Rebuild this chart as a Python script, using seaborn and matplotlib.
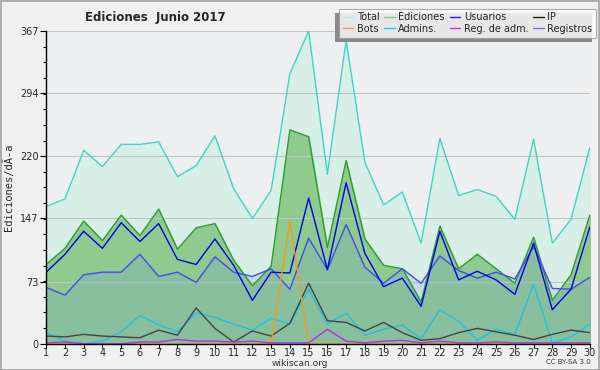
import matplotlib
matplotlib.use("Agg")
import matplotlib.pyplot as plt
import seaborn as sns
import pandas as pd
import numpy as np
from matplotlib.lines import Line2D
from matplotlib.ticker import FixedLocator

days = list(range(1, 31))
total = [161, 170, 227, 208, 234, 234, 237, 196, 209, 244, 182, 147, 180, 317, 367, 199, 356, 213, 163, 178,
         118, 241, 174, 181, 173, 146, 240, 118, 146, 230]
ediciones = [93, 112, 144, 121, 151, 127, 158, 111, 136, 141, 98, 68, 91, 251, 243, 113, 215, 123, 92, 88,
             49, 138, 88, 105, 88, 71, 125, 51, 81, 151]
usuarios = [84, 105, 132, 112, 142, 120, 141, 99, 93, 123, 92, 51, 84, 83, 171, 87, 189, 106, 67, 77,
            44, 132, 75, 85, 75, 58, 118, 40, 64, 137]
registros = [66, 57, 81, 84, 84, 105, 79, 84, 72, 102, 84, 79, 88, 64, 124, 87, 140, 90, 71, 88,
             71, 103, 86, 77, 84, 76, 114, 65, 64, 78]
ip = [9, 8, 11, 9, 8, 7, 16, 10, 42, 18, 2, 15, 9, 24, 71, 27, 25, 15, 25, 13,
      4, 6, 13, 18, 14, 10, 5, 11, 16, 13]
admins = [13, 3, 0, 3, 14, 33, 22, 14, 36, 31, 23, 16, 30, 23, 64, 23, 36, 10, 17, 22,
          6, 40, 26, 4, 17, 11, 70, 1, 8, 23]
bots = [0, 0, 0, 0, 0, 0, 0, 0, 0, 0, 0, 0, 0, 144, 0, 0, 0, 0, 0, 0,
        0, 0, 0, 0, 0, 0, 0, 0, 0, 0]
reg_adm = [1, 2, 0, 0, 0, 2, 2, 5, 3, 3, 2, 3, 1, 1, 1, 17, 3, 1, 3, 4,
           1, 3, 1, 1, 2, 1, 1, 1, 1, 1]
yticks = [0, 73, 147, 220, 294, 367]

df = pd.DataFrame({"day": days, "Total": total, "Ediciones": ediciones, "Usuarios": usuarios,
                   "IP": ip, "Bots": bots, "Admins.": admins, "Reg. de adm.": reg_adm,
                   "Registros": registros})

sns.set_theme(style="white")
plt.rcParams["font.family"] = ["DejaVu Sans"]

fig = plt.figure(figsize=(6, 3.7), dpi=100, facecolor="#f0f0f0")
ax = fig.add_axes([0.077, 0.071, 0.906, 0.845])
ax.set_facecolor("#eeeff0")

# fills
ax.fill_between(df["day"], df["Total"], color="#d8efe8", zorder=1)
ax.fill_between(df["day"], df["Ediciones"], color="#8fca8f", zorder=2)
ax.fill_between(df["day"], df["Registros"], color="#6a8ee8", alpha=0.17, zorder=3)

line_colors = {"Total": "#3fd6c6", "Ediciones": "#2e9e2e", "Registros": "#4a4af0",
               "Usuarios": "#0000e6", "IP": "#444444", "Admins.": "#22c2e0",
               "Bots": "#f59a20", "Reg. de adm.": "#b030f0"}
order = ["Total", "Ediciones", "Registros", "Usuarios", "Admins.", "IP", "Bots", "Reg. de adm."]
for i, name in enumerate(order):
    sns.lineplot(data=df, x="day", y=name, ax=ax, color=line_colors[name], linewidth=1.0,
                 legend=False, zorder=5 + i)

ax.set_xlim(1, 30)
ax.set_ylim(0, 367)
ax.set_xticks(days)
ax.set_xticklabels([str(d) for d in days], fontsize=7)
ax.yaxis.set_major_locator(FixedLocator(yticks))
ax.set_yticklabels([str(t) for t in yticks], fontsize=7)
ax.yaxis.set_minor_locator(FixedLocator([v for v in np.arange(0, 367.1, 367 / 20)]))
ax.tick_params(axis="x", which="major", length=3, width=0.8, color="black", pad=0.3,
               direction="out", bottom=True)
ax.tick_params(axis="y", which="major", length=4, width=0.8, color="black", pad=1.5,
               direction="out", left=True)
ax.tick_params(axis="y", which="minor", length=2.5, width=0.8, color="black", left=True)
ax.grid(axis="y", which="major", color="#c4c4c4", linewidth=0.8, zorder=0)
ax.set_axisbelow(False)
for s in ["top", "right"]:
    ax.spines[s].set_visible(False)
for s in ["left", "bottom"]:
    ax.spines[s].set_color("black")
    ax.spines[s].set_linewidth(1.0)
    ax.spines[s].set_zorder(20)
ax.set_xlabel("")
ax.set_ylabel("Ediciones/dÃ-a", fontsize=7.5, family="DejaVu Sans Mono", labelpad=4)

fig.text(0.142, 0.953, "Ediciones  Junio 2017", fontsize=8.5, fontweight="bold", ha="left", va="center")
fig.text(0.5, 0.018, "wikiscan.org", fontsize=6.5, ha="center", va="center", color="#333333")
fig.text(0.985, 0.021, "CC BY-SA 3.0", fontsize=5, ha="right", va="center", color="#333333")

leg_colors = {"Total": "#b0f0ee", "Ediciones": "#7fd07f", "Usuarios": "#2222ee", "IP": "#222222",
              "Bots": "#f8a030", "Admins.": "#22c8e8", "Reg. de adm.": "#cc33ee", "Registros": "#6a6aff"}
leg_order = ["Total", "Bots", "Ediciones", "Admins.", "Usuarios", "Reg. de adm.", "IP", "Registros"]
handles = [Line2D([], [], color=leg_colors[n], linewidth=1.0) for n in leg_order]
leg = fig.legend(handles, leg_order, ncol=4, loc="upper right", bbox_to_anchor=(0.997, 0.982),
                 fontsize=7, frameon=True, fancybox=False, shadow=False, handlelength=1.1,
                 handletextpad=0.35, columnspacing=0.5, labelspacing=0.12, borderpad=0.4,
                 borderaxespad=0.2)
leg.get_frame().set_edgecolor("#999999")
leg.get_frame().set_linewidth(0.8)
leg.get_frame().set_facecolor("white")
leg.set_zorder(30)

fig.canvas.draw()
bb = leg.get_window_extent().transformed(fig.transFigure.inverted())
shadow = plt.Rectangle((bb.x0 - 4 / 600, bb.y0 - 4 / 370), bb.width, bb.height,
                       transform=fig.transFigure, facecolor="#8a8a8a", edgecolor="none", zorder=29)
fig.patches.append(shadow)

border = plt.Rectangle((0.001, 0.001), 0.998, 0.997, transform=fig.transFigure, fill=False,
                       edgecolor="#a0a0a0", linewidth=1.2)
fig.patches.append(border)

fig.savefig("out.png", dpi=100, facecolor=fig.get_facecolor())
